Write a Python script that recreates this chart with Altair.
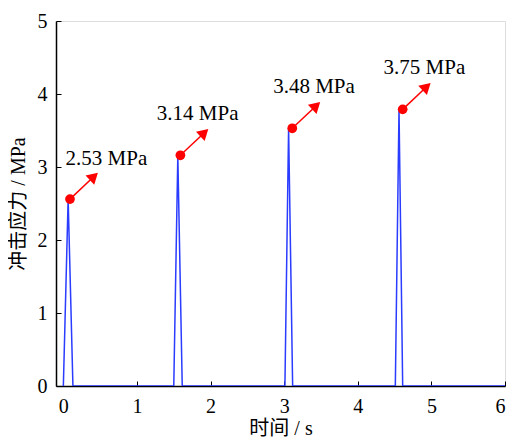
import altair as alt
import pandas as pd

# stress trace (time s, stress MPa)
t_vals = [0.0, 0.065, 0.13, 1.50, 1.555, 1.615, 3.01, 3.06, 3.115, 4.51, 4.56, 4.61, 6.0]
s_vals = [0.0, 2.56, 0.0, 0.0, 3.15, 0.0, 0.0, 3.53, 0.0, 0.0, 3.79, 0.0, 0.0]

# peak markers
dot_x = [0.09, 1.59, 3.11, 4.61]
dot_y = [2.56, 3.16, 3.53, 3.79]

# arrow tips
tip_x = [0.49, 1.99, 3.51, 5.01]
tip_y = [2.94, 3.54, 3.91, 4.17]

# labels
lab_text = ["2.53 MPa", "3.14 MPa", "3.48 MPa", "3.75 MPa"]
lab_x = [0.03, 1.27, 2.85, 4.35]
lab_y = [3.03, 3.64, 4.02, 4.27]

x_ticks = [0, 1, 2, 3, 4, 5, 6]
y_ticks = [0, 1, 2, 3, 4, 5]

FONT = "Times New Roman, Liberation Serif, Noto Sans CJK SC"

line_df = pd.DataFrame({"t": t_vals, "s": s_vals})
dot_df = pd.DataFrame({"x": dot_x, "y": dot_y})
arr_df = pd.DataFrame({"x": dot_x, "y": dot_y, "tx": tip_x, "ty": tip_y})
# shaft ends a bit before the tip; head centred slightly behind the tip
arr_df["sx"] = arr_df["tx"] - 0.10
arr_df["sy"] = arr_df["ty"] - 0.095
arr_df["hx"] = arr_df["tx"] - 0.075
arr_df["hy"] = arr_df["ty"] - 0.07
lab_df = pd.DataFrame({"x": lab_x, "y": lab_y, "text": lab_text})

xscale = alt.Scale(domain=[-0.1, 6], nice=False, zero=False)
yscale = alt.Scale(domain=[0, 5], nice=False)

xaxis = alt.Axis(
    title="时间 / s", values=x_ticks, format="d", grid=False,
    tickSize=alt.ExprRef("-5"), labelPadding=15, tickColor="black", tickWidth=1,
    domainColor="black", domainWidth=1.5,
    labelFont=FONT, labelFontSize=20, labelColor="black",
    titleFont=FONT, titleFontSize=20, titleFontWeight="normal", titleColor="black",
    titleY=42, titleBaseline="middle",
)
yaxis = alt.Axis(
    title="冲击应力 / MPa", values=y_ticks, format="d", grid=False,
    tickSize=alt.ExprRef("-5"), labelPadding=14, tickColor="black", tickWidth=1,
    domainColor="black", domainWidth=1.5,
    labelFont=FONT, labelFontSize=20, labelColor="black",
    titleFont=FONT, titleFontSize=20, titleFontWeight="normal", titleColor="black",
    titleX=-38, titleY=182.5, titleAngle=-90, titleBaseline="middle", titleAlign="center",
)

line = alt.Chart(line_df).mark_line(color="#2a3cff", strokeWidth=1.5, clip=True).encode(
    x=alt.X("t:Q", scale=xscale, axis=xaxis),
    y=alt.Y("s:Q", scale=yscale, axis=yaxis),
)

shaft = alt.Chart(arr_df).mark_rule(color="#ff0000", strokeWidth=1.5).encode(
    x="x:Q", y="y:Q", x2="sx:Q", y2="sy:Q"
)
head = alt.Chart(arr_df).mark_point(
    shape="triangle-up", filled=True, color="#ff0000", size=160, angle=47, opacity=1
).encode(x="hx:Q", y="hy:Q")

dots = alt.Chart(dot_df).mark_circle(color="#ff0000", size=95, opacity=1).encode(
    x="x:Q", y="y:Q"
)

labels = alt.Chart(lab_df).mark_text(
    align="left", baseline="alphabetic", font=FONT, fontSize=21, color="black"
).encode(x="x:Q", y="y:Q", text="text:N")

chart = (
    alt.layer(line, shaft, head, dots, labels)
    .properties(
        width=449, height=365,
        autosize=alt.AutoSizeParams(type="none"),
        padding={"left": 48, "top": 13, "right": 2, "bottom": 54},
    )
    .configure_view(stroke="black", strokeWidth=1.5)
    .configure(background="white")
)

chart.save("out.html", embed_options={"renderer": "svg", "actions": False})
